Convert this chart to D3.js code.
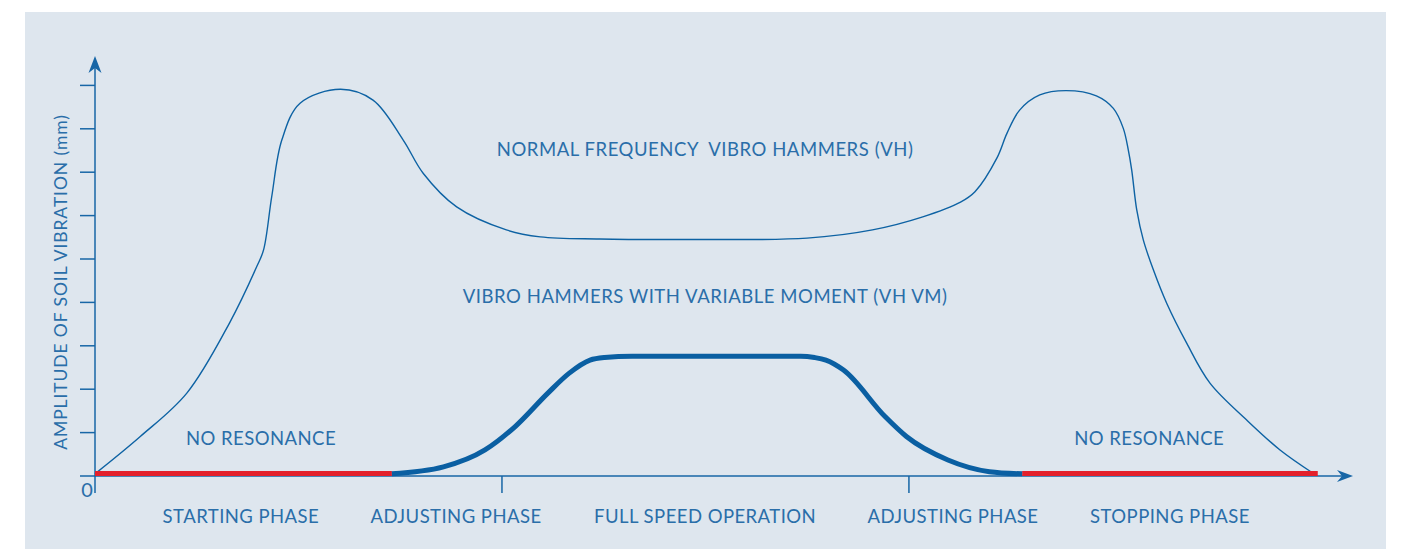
<!DOCTYPE html>
<meta charset="utf-8" />
<style>
  body {
    margin: 0;
    background: #fff;
  }
  svg text {
    font-family: Lato, "Open Sans", sans-serif;
    fill: #2a6ea9;
  }
  .axis line {
    stroke: #1766a6;
    stroke-width: 1.5px;
    fill: none;
  }
</style>
<svg width="1403" height="549"></svg>

<script src="https://d3js.org/d3.v7.js"></script>
<script>
  /* global d3 */

  // time along the run (0..100) and soil amplitude (tick units)
  var vhTime = [0, 3.6, 7.3, 10.7, 12.85, 13.4, 14.05, 14.85, 16.3, 19.5, 22.1,
    24.5, 26.1, 28.75, 32.7, 35.4, 40.1, 48.1, 56.6, 61.8, 65.8, 68.8, 69.95,
    71.7, 72.5, 73.5, 75.1, 77.2, 79.6, 80.95, 81.74, 82.14, 82.41, 82.81, 83.33,
    84.13, 85.19, 86.78, 88.63, 91.55, 94.2, 96.8];
  var vhAmp = [0.05, 0.91, 1.91, 3.53, 4.82, 5.21, 6.44, 7.74, 8.59, 8.91, 8.66,
    7.74, 6.97, 6.2, 5.67, 5.51, 5.46, 5.45, 5.48, 5.67, 5.97, 6.31, 6.55,
    7.33, 7.9, 8.43, 8.78, 8.88, 8.76, 8.47, 8.01, 7.51, 7.05, 6.13, 5.44,
    4.75, 3.98, 3.06, 2.14, 1.29, 0.6, 0.07];

  var vmTime = [23.6, 27.7, 31.0, 33.4, 36.0, 37.7, 39.35, 40.5, 42.7, 56.1, 57.2,
    58.1, 59.5, 62.8, 64.5, 67.8, 71.1, 73.7];
  var vmAmp = [0.05, 0.21, 0.6, 1.14, 1.91, 2.37, 2.67, 2.73, 2.76, 2.76, 2.73,
    2.67, 2.44, 1.37, 0.91, 0.37, 0.1, 0.05];

  var noResonance = [[0, 23.6], [73.7, 97.2]];
  var noResonanceLabelAt = [13.2, 83.8];

  var phaseLabels = ["STARTING PHASE", "ADJUSTING PHASE", "FULL SPEED OPERATION",
    "ADJUSTING PHASE", "STOPPING PHASE"];
  var phaseCenters = [11.6, 28.7, 48.5, 68.2, 85.45];
  var phaseTicks = [32.35, 64.7];
  var ampTicks = [1, 2, 3, 4, 5, 6, 7, 8, 9];

  var svg = d3.select("svg");

  svg.append("rect")
    .attr("x", 25).attr("y", 12)
    .attr("width", 1361).attr("height", 537)
    .attr("fill", "#dee6ee");

  var x = d3.scaleLinear().domain([0, 100]).range([95, 1353]);
  var y = d3.scaleLinear().domain([0, 9]).range([476, 85.4]);

  var axisG = svg.append("g").attr("class", "axis");

  // x axis line + arrow
  axisG.append("line")
    .attr("x1", 80).attr("x2", x(100) - 6)
    .attr("y1", y(0)).attr("y2", y(0));
  axisG.append("path")
    .attr("fill", "#1766a6")
    .attr("d", "M" + x(100) + "," + y(0) +
      "L" + (x(100) - 16) + "," + (y(0) - 6) +
      "L" + (x(100) - 11) + "," + y(0) +
      "L" + (x(100) - 16) + "," + (y(0) + 6) + "Z");

  // y axis line + arrow
  axisG.append("line")
    .attr("x1", x(0)).attr("x2", x(0))
    .attr("y1", y(0) + 17).attr("y2", 62);
  axisG.append("path")
    .attr("fill", "#1766a6")
    .attr("d", "M" + x(0) + ",56" +
      "L" + (x(0) - 6.5) + ",73" +
      "L" + x(0) + ",68" +
      "L" + (x(0) + 6.5) + ",73Z");

  axisG.selectAll("line.ytick")
    .data(ampTicks)
    .enter()
    .append("line")
    .attr("class", "ytick")
    .attr("x1", x(0) - 15).attr("x2", x(0))
    .attr("y1", function (d) { return y(d); })
    .attr("y2", function (d) { return y(d); });

  axisG.selectAll("line.xtick")
    .data(phaseTicks)
    .enter()
    .append("line")
    .attr("class", "xtick")
    .attr("x1", function (d) { return x(d); })
    .attr("x2", function (d) { return x(d); })
    .attr("y1", y(0)).attr("y2", y(0) + 17);

  svg.append("text")
    .attr("x", 87).attr("y", 497)
    .attr("text-anchor", "middle")
    .style("font-size", "20px")
    .text("0");

  svg.append("text")
    .attr("transform", "translate(67,282) rotate(-90)")
    .attr("text-anchor", "middle")
    .style("font-size", "17.5px")
    .style("letter-spacing", "0.9px")
    .text("AMPLITUDE OF SOIL VIBRATION (mm)");

  var vhLine = d3.line()
    .x(function (d) { return x(d[0]); })
    .y(function (d) { return y(d[1]); })
    .curve(d3.curveCatmullRom.alpha(0.5));

  var vmLine = d3.line()
    .x(function (d) { return x(d[0]); })
    .y(function (d) { return y(d[1]); })
    .curve(d3.curveMonotoneX);

  var vh = d3.zip(vhTime, vhAmp);
  var vm = d3.zip(vmTime, vmAmp);

  svg.append("path")
    .datum(vh)
    .attr("fill", "none")
    .attr("stroke", "#0d62a3")
    .attr("stroke-width", 1.4)
    .attr("d", vhLine);

  svg.append("g")
    .selectAll("line")
    .data(noResonance)
    .enter()
    .append("line")
    .attr("x1", function (d) { return x(d[0]); })
    .attr("x2", function (d) { return x(d[1]); })
    .attr("y1", y(0.06)).attr("y2", y(0.06))
    .attr("stroke", "#e3202b")
    .attr("stroke-width", 5);

  svg.append("path")
    .datum(vm)
    .attr("fill", "none")
    .attr("stroke", "#0a5fa2")
    .attr("stroke-width", 5)
    .attr("d", vmLine);

  var labelFont = "18.5px";
  var labelSpacing = "0.45px";

  svg.selectAll("text.nores")
    .data(noResonanceLabelAt)
    .enter()
    .append("text")
    .attr("class", "nores")
    .attr("x", function (d) { return x(d); })
    .attr("y", 445)
    .attr("text-anchor", "middle")
    .style("font-size", labelFont)
    .style("letter-spacing", labelSpacing)
    .text("NO RESONANCE");

  svg.selectAll("text.phase")
    .data(phaseLabels)
    .enter()
    .append("text")
    .attr("class", "phase")
    .attr("x", function (d, i) { return x(phaseCenters[i]); })
    .attr("y", 523)
    .attr("text-anchor", "middle")
    .style("font-size", labelFont)
    .style("letter-spacing", labelSpacing)
    .text(function (d) { return d; });

  svg.append("text")
    .attr("x", x(48.5)).attr("y", 156)
    .attr("text-anchor", "middle")
    .style("font-size", labelFont)
    .style("letter-spacing", "0.55px")
    .style("white-space", "pre")
    .text("NORMAL FREQUENCY  VIBRO HAMMERS (VH)");

  svg.append("text")
    .attr("x", x(48.5)).attr("y", 303)
    .attr("text-anchor", "middle")
    .style("font-size", labelFont)
    .style("letter-spacing", "0.55px")
    .text("VIBRO HAMMERS WITH VARIABLE MOMENT (VH VM)");
</script>
